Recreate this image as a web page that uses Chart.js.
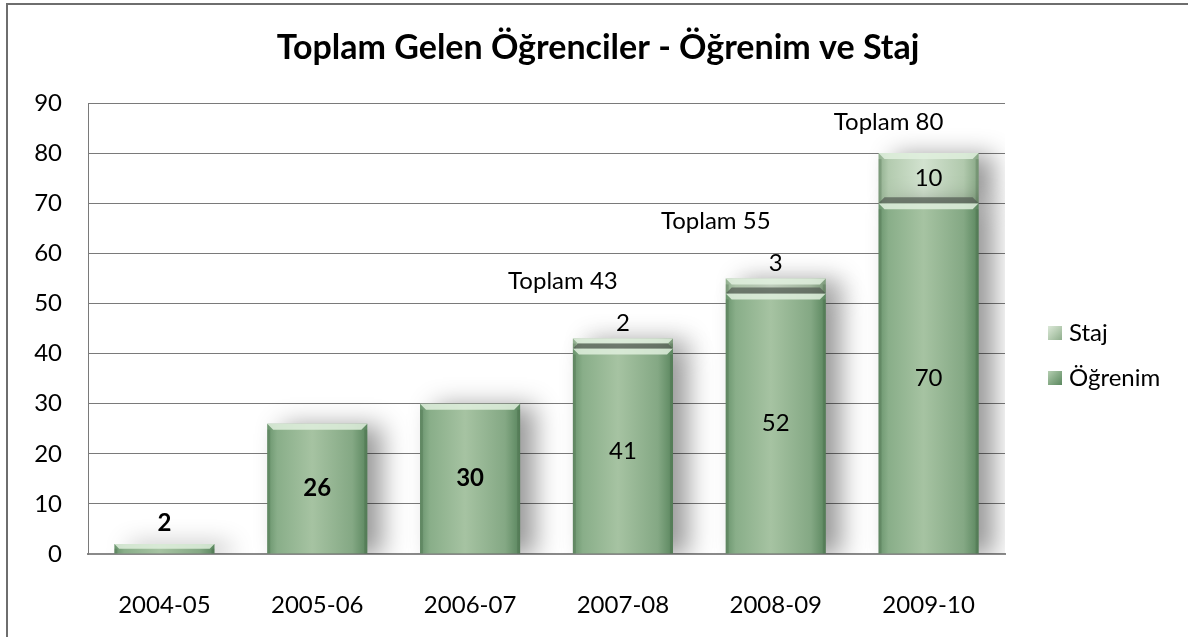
<!DOCTYPE html>
<html>
<head>
<meta charset="utf-8">
<script src="https://cdn.jsdelivr.net/npm/chart.js@4.4.0/dist/chart.umd.min.js"></script>
<style>
  html, body { margin: 0; padding: 0; background: #fff; }
  #wrap { width: 1188px; height: 637px; }
</style>
</head>
<body>
<div id="wrap"><canvas id="chart" width="1188" height="637"></canvas></div>
<script>
// chart data
const years = ['2004-05', '2005-06', '2006-07', '2007-08', '2008-09', '2009-10'];
const ogrenim = [2, 26, 30, 41, 52, 70];
const staj = [0, 0, 0, 2, 3, 10];
const yMax = 90;
const yStep = 10;
const titleText = 'Toplam Gelen Öğrenciler - Öğrenim ve Staj';
const totalPrefix = 'Toplam';

// which Öğrenim labels are bold in the original
const ogrenimBold = [true, true, true, false, false, false];

const FONT_FAMILY = 'Lato, "Open Sans", sans-serif';
const FONT_SIZE = 24;
const BAR_PCT = 0.655;

// horizontal gradient across each bar, gives the rounded look
function barFill(light) {
    return function(c) {
        const chart = c.chart;
        if (!chart.chartArea || c.type !== 'data') return light ? '#bcd3b8' : '#8db08c';
        const x = chart.scales.x.getPixelForValue(c.dataIndex);
        const half = chart.chartArea.width / years.length * BAR_PCT / 2;
        const g = chart.ctx.createLinearGradient(x - half, 0, x + half, 0);
        if (light) {
            g.addColorStop(0, '#8fae8d');
            g.addColorStop(0.1, '#b3cbaf');
            g.addColorStop(0.45, '#d2e2cf');
            g.addColorStop(0.85, '#b1c9ad');
            g.addColorStop(1, '#86a684');
        } else {
            g.addColorStop(0, '#6a946d');
            g.addColorStop(0.1, '#89ae89');
            g.addColorStop(0.45, '#a6c3a2');
            g.addColorStop(0.85, '#84a884');
            g.addColorStop(1, '#5a865e');
        }
        return g;
    };
}

// soft shadow to the right of the bars
const shadowPlugin = {
    id: 'barShadow',
    beforeDatasetsDraw(chart) {
        const ctx = chart.ctx;
        ctx.save();
        ctx.shadowColor = 'rgba(0, 0, 0, 0.4)';
        ctx.shadowBlur = 24;
        ctx.shadowOffsetX = 15;
        ctx.shadowOffsetY = 2;
    },
    afterDatasetsDraw(chart) {
        chart.ctx.restore();
    }
};

// bevel highlights at the top / bottom edges of the segments
const bevelPlugin = {
    id: 'bevel',
    afterDatasetsDraw(chart) {
        const ctx = chart.ctx;
        const b = 6;
        ctx.save();
        [0, 1].forEach(ds => {
            const values = ds === 0 ? ogrenim : staj;
            chart.getDatasetMeta(ds).data.forEach((bar, i) => {
                if (!values[i]) return;
                const l = bar.x - bar.width / 2, r = bar.x + bar.width / 2;
                const top = bar.y, base = bar.base;
                const h = Math.min(b, (base - top) / 2);
                // light top edge
                ctx.beginPath();
                ctx.moveTo(l, top); ctx.lineTo(r, top);
                ctx.lineTo(r - h, top + h); ctx.lineTo(l + h, top + h);
                ctx.closePath();
                ctx.fillStyle = 'rgba(225, 240, 222, 0.85)';
                ctx.fill();
                // dark bottom edge on the Staj part
                if (ds === 1) {
                    ctx.beginPath();
                    ctx.moveTo(l, base); ctx.lineTo(r, base);
                    ctx.lineTo(r - h, base - h); ctx.lineTo(l + h, base - h);
                    ctx.closePath();
                    ctx.fillStyle = 'rgba(85, 95, 85, 0.75)';
                    ctx.fill();
                }
                // darker side edges
                ctx.fillStyle = 'rgba(60, 90, 60, 0.25)';
                ctx.fillRect(l, top + h, 3, base - top - h);
                ctx.fillRect(r - 3, top + h, 3, base - top - h);
            });
        });
        ctx.restore();
    }
};

// value labels and "Toplam" labels
const labelPlugin = {
    id: 'valueLabels',
    afterDatasetsDraw(chart) {
        const ctx = chart.ctx;
        const m0 = chart.getDatasetMeta(0);
        const m1 = chart.getDatasetMeta(1);
        ctx.save();
        ctx.fillStyle = '#000';
        ctx.textAlign = 'center';
        ctx.textBaseline = 'middle';
        years.forEach((yr, i) => {
            const b0 = m0.data[i];
            ctx.font = (ogrenimBold[i] ? 'bold ' : '') + FONT_SIZE + 'px ' + FONT_FAMILY;
            if (ogrenim[i] < 5) {
                ctx.fillText(String(ogrenim[i]), b0.x, b0.y - 21);
            } else {
                ctx.fillText(String(ogrenim[i]), b0.x, (b0.y + b0.base) / 2);
            }
            if (!staj[i]) return;
            const b1 = m1.data[i];
            ctx.font = FONT_SIZE + 'px ' + FONT_FAMILY;
            const small = staj[i] < 5;
            if (small) {
                ctx.fillText(String(staj[i]), b1.x, b1.y - 15);
            } else {
                ctx.fillText(String(staj[i]), b1.x, (b1.y + b1.base) / 2);
            }
            const total = ogrenim[i] + staj[i];
            const dx = small ? -60 : -40;
            const dy = small ? -57 : -31;
            ctx.fillText(totalPrefix + ' ' + total, b1.x + dx, b1.y + dy);
        });
        ctx.restore();
    }
};

// title, legend and outer frame
const decorPlugin = {
    id: 'decor',
    afterDraw(chart) {
        const ctx = chart.ctx;
        ctx.save();
        ctx.fillStyle = '#000';
        ctx.textAlign = 'center';
        ctx.textBaseline = 'middle';
        ctx.font = 'bold 34px ' + FONT_FAMILY;
        ctx.fillText(titleText, 598, 48);

        // legend
        const items = [
            { text: chart.data.datasets[1].label, light: true, y: 333 },
            { text: chart.data.datasets[0].label, light: false, y: 378 }
        ];
        ctx.textAlign = 'left';
        ctx.font = FONT_SIZE + 'px ' + FONT_FAMILY;
        items.forEach(it => {
            const x = 1048, s = 14, y = it.y - s / 2;
            const g = ctx.createLinearGradient(x, y, x + s, y + s);
            g.addColorStop(0, it.light ? '#dbe8d8' : '#b6cfb2');
            g.addColorStop(0.5, it.light ? '#b7cdb3' : '#86aa86');
            g.addColorStop(1, it.light ? '#8fae8d' : '#5b885f');
            ctx.fillStyle = g;
            ctx.fillRect(x, y, s, s);
            ctx.fillStyle = '#000';
            ctx.fillText(it.text, x + s + 7, it.y);
        });

        // frame
        ctx.strokeStyle = '#6e6e6e';
        ctx.lineWidth = 2;
        ctx.strokeRect(7, 4, 1200, 660);
        ctx.restore();
    }
};

const ctxChart = document.getElementById('chart').getContext('2d');
const chart = new Chart(ctxChart, {
    type: 'bar',
    data: {
        labels: years,
        datasets: [
            {
                label: 'Öğrenim',
                data: ogrenim,
                backgroundColor: barFill(false),
                borderWidth: 0,
                barPercentage: BAR_PCT,
                categoryPercentage: 1
            },
            {
                label: 'Staj',
                data: staj,
                backgroundColor: barFill(true),
                borderWidth: 0,
                barPercentage: BAR_PCT,
                categoryPercentage: 1
            }
        ]
    },
    options: {
        responsive: false,
        animation: false,
        devicePixelRatio: 1,
        layout: { padding: { top: 103, right: 183, bottom: 0, left: 0 } },
        plugins: {
            legend: { display: false },
            title: { display: false },
            tooltip: { enabled: false }
        },
        scales: {
            x: {
                stacked: true,
                grid: { display: false },
                border: { display: true, color: '#8a8a8a', width: 2 },
                ticks: {
                    color: '#000',
                    padding: 29,
                    font: { family: FONT_FAMILY, size: FONT_SIZE }
                },
                afterFit: s => { s.height = 83; }
            },
            y: {
                stacked: true,
                min: 0,
                max: yMax,
                grid: { color: '#7a7a7a', lineWidth: 1, drawTicks: false },
                border: { display: true, color: '#7a7a7a', width: 1 },
                ticks: {
                    stepSize: yStep,
                    color: '#000',
                    padding: 26,
                    font: { family: FONT_FAMILY, size: FONT_SIZE }
                },
                afterFit: s => { s.width = 88; }
            }
        }
    },
    plugins: [shadowPlugin, bevelPlugin, labelPlugin, decorPlugin]
});
</script>
</body>
</html>
